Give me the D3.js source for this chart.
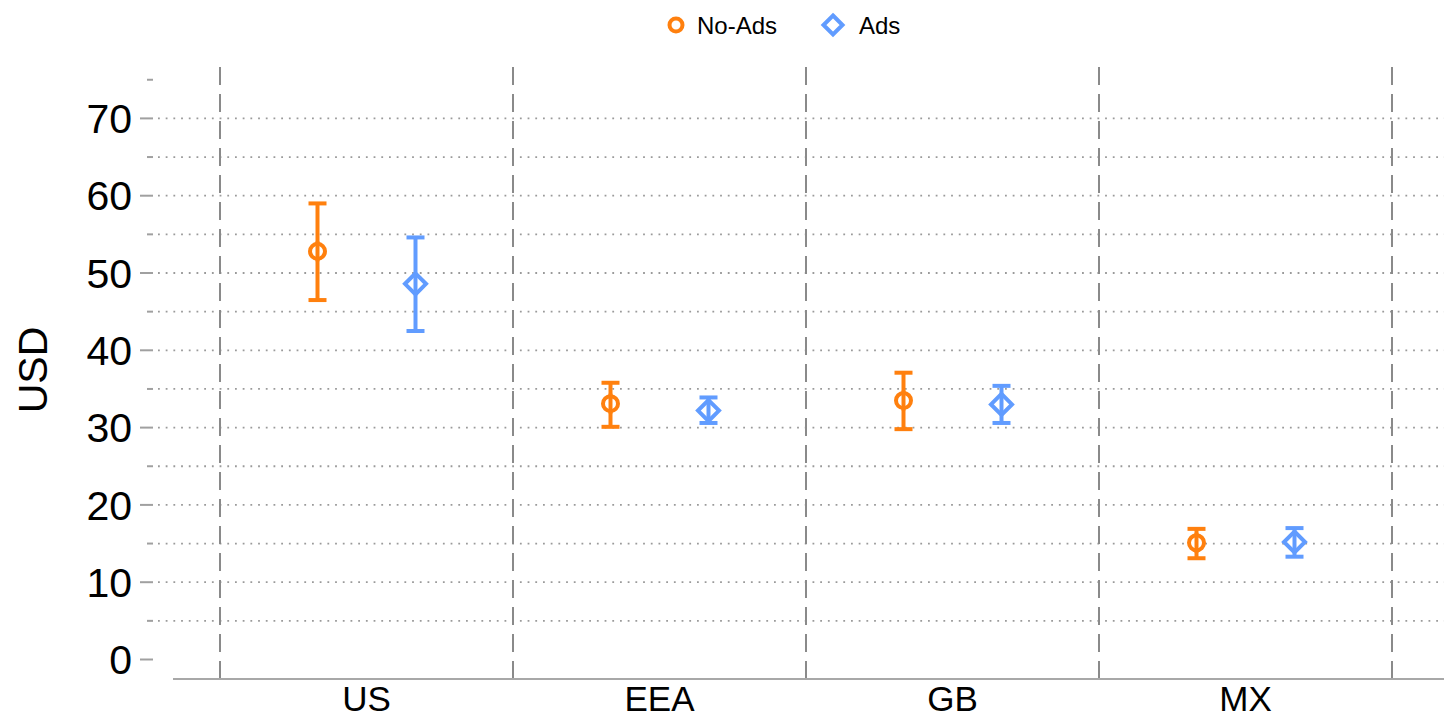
<!DOCTYPE html>
<html>
<head>
<meta charset="utf-8">
<script src="https://cdn.jsdelivr.net/npm/d3@7"></script>
<style>
  html, body { margin: 0; padding: 0; background: #fff; }
  svg { display: block; font-family: "Liberation Sans", Arial, Helvetica, sans-serif; }
</style>
</head>
<body>
<svg id="chart" width="1444" height="718"></svg>
<script>
// Regions and the two subscription tiers
const regions = ["US", "EEA", "GB", "MX"];
const series = ["No-Ads", "Ads"];

// Mean price (USD) with lower / upper interval bounds, per region
const noAdsMean  = [52.8, 33.1, 33.5, 15.1];
const noAdsLower = [46.5, 30.1, 29.8, 13.1];
const noAdsUpper = [59.0, 35.8, 37.1, 16.9];

const adsMean  = [48.6, 32.2, 33.0, 15.2];
const adsLower = [42.5, 30.6, 30.6, 13.3];
const adsUpper = [54.6, 33.9, 35.4, 17.0];

const yTicks = [0, 5, 10, 15, 20, 25, 30, 35, 40, 45, 50, 55, 60, 65, 70, 75];
const yLabelTicks = [0, 10, 20, 30, 40, 50, 60, 70];

const colors = { "No-Ads": "#ff800e", "Ads": "#619cff" };

const svg = d3.select("#chart");

const y = d3.scaleLinear().domain([0, 70]).range([659.5, 118.4]);
const x = d3.scaleBand().domain(regions).range([220, 1392]).padding(0);
const dx = d3.scalePoint().domain(series).range([-49, 49]);

const gridLeft = 158, gridRight = 1444;
const axisY = 679;

// horizontal dotted grid
svg.append("g")
  .selectAll("line")
  .data(yTicks.filter(t => t > 0 && t <= 70))
  .join("line")
  .attr("x1", gridLeft).attr("x2", gridRight)
  .attr("y1", d => y(d)).attr("y2", d => y(d))
  .attr("stroke", "#9a9a9a")
  .attr("stroke-width", 1.8)
  .attr("stroke-dasharray", "1.8,5.9");

// dashed region separators
const seps = regions.map(r => x(r)).concat([x(regions[regions.length - 1]) + x.bandwidth()]);
svg.append("g")
  .selectAll("line")
  .data(seps)
  .join("line")
  .attr("x1", d => d).attr("x2", d => d)
  .attr("y1", axisY).attr("y2", 60)
  .attr("stroke", "#8a8a8a")
  .attr("stroke-width", 2)
  .attr("stroke-dasharray", "18,9");

// y tick marks and labels
const yAxis = svg.append("g");
yAxis.selectAll("line")
  .data(yTicks)
  .join("line")
  .attr("x1", d => (d % 10 === 0 ? 140 : 147))
  .attr("x2", 153)
  .attr("y1", d => y(d)).attr("y2", d => y(d))
  .attr("stroke", "#a0a0a0")
  .attr("stroke-width", 2);
yAxis.selectAll("text")
  .data(yLabelTicks)
  .join("text")
  .attr("x", 132)
  .attr("y", d => y(d))
  .attr("dy", "0.36em")
  .attr("text-anchor", "end")
  .attr("font-size", 41)
  .attr("fill", "#000")
  .text(d => d);

// y axis title
svg.append("text")
  .attr("transform", "translate(47,370) rotate(-90)")
  .attr("text-anchor", "middle")
  .attr("font-size", 41)
  .attr("fill", "#000")
  .text("USD");

// x axis baseline and labels
svg.append("line")
  .attr("x1", 173).attr("x2", 1444)
  .attr("y1", axisY).attr("y2", axisY)
  .attr("stroke", "#a8a8a8")
  .attr("stroke-width", 2);
svg.append("g")
  .selectAll("text")
  .data(regions)
  .join("text")
  .attr("x", d => x(d) + x.bandwidth() / 2)
  .attr("y", 711)
  .attr("text-anchor", "middle")
  .attr("font-size", 35)
  .attr("fill", "#000")
  .text(d => d);

// error bars + markers
const rows = [];
regions.forEach((r, i) => {
  rows.push({ region: r, s: "No-Ads", mean: noAdsMean[i], lo: noAdsLower[i], hi: noAdsUpper[i] });
  rows.push({ region: r, s: "Ads", mean: adsMean[i], lo: adsLower[i], hi: adsUpper[i] });
});

const capHalf = 9;
const marks = svg.append("g")
  .selectAll("g")
  .data(rows)
  .join("g")
  .attr("transform", d => `translate(${x(d.region) + x.bandwidth() / 2 + dx(d.s)},0)`)
  .attr("stroke", d => colors[d.s])
  .attr("stroke-width", 4)
  .attr("fill", "none");

marks.append("line")
  .attr("x1", 0).attr("x2", 0)
  .attr("y1", d => y(d.lo)).attr("y2", d => y(d.hi));
marks.append("line")
  .attr("x1", -capHalf).attr("x2", capHalf)
  .attr("y1", d => y(d.hi)).attr("y2", d => y(d.hi));
marks.append("line")
  .attr("x1", -capHalf).attr("x2", capHalf)
  .attr("y1", d => y(d.lo)).attr("y2", d => y(d.lo));

marks.filter(d => d.s === "No-Ads")
  .append("circle")
  .attr("cx", 0).attr("cy", d => y(d.mean))
  .attr("r", 7.5)
  .attr("fill", "#fff");

const diamond = (cx, cy, h) => `M${cx},${cy - h}L${cx + h},${cy}L${cx},${cy + h}L${cx - h},${cy}Z`;
marks.filter(d => d.s === "Ads")
  .append("path")
  .attr("d", d => diamond(0, y(d.mean), 10.5))
  .attr("fill", "#fff");
// vertical stroke through the marker
marks.append("line")
  .attr("x1", 0).attr("x2", 0)
  .attr("y1", d => y(d.mean) - 10).attr("y2", d => y(d.mean) + 10);

// legend
const legend = svg.append("g");
legend.append("circle")
  .attr("cx", 676).attr("cy", 25).attr("r", 6.5)
  .attr("fill", "none").attr("stroke", colors["No-Ads"]).attr("stroke-width", 4);
legend.append("text")
  .attr("x", 697).attr("y", 25).attr("dy", "0.36em")
  .attr("font-size", 24).attr("fill", "#000")
  .text(series[0]);
legend.append("path")
  .attr("d", diamond(833, 25, 9.5))
  .attr("fill", "none").attr("stroke", colors["Ads"]).attr("stroke-width", 4);
legend.append("text")
  .attr("x", 859).attr("y", 25).attr("dy", "0.36em")
  .attr("font-size", 24).attr("fill", "#000")
  .text(series[1]);
</script>
</body>
</html>
